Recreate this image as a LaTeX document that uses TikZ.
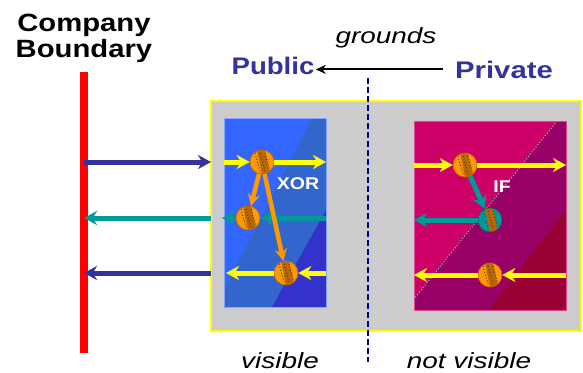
\documentclass[tikz,border=0pt]{standalone}
\usepackage{fontspec}
\setmainfont{Liberation Sans}
\usetikzlibrary{arrows.meta}

\definecolor{navy}{HTML}{333399}
\definecolor{darknavy}{HTML}{000099}
\definecolor{boundred}{HTML}{FF0000}
\definecolor{framegray}{HTML}{CCCCCC}
\definecolor{flowyellow}{HTML}{FFFF00}
\definecolor{flowteal}{HTML}{009999}
\definecolor{floworange}{HTML}{FF9900}
\definecolor{xorlight}{HTML}{3366FF}
\definecolor{xormid}{HTML}{3366CC}
\definecolor{xordark}{HTML}{3333CC}
\definecolor{iflight}{HTML}{CC0066}
\definecolor{ifmid}{HTML}{990066}
\definecolor{ifdark}{HTML}{990033}
\definecolor{ballrim}{HTML}{CC6600}
\definecolor{balldark}{HTML}{BB6600}

\tikzset{
  headline/.style={font=\bfseries\fontsize{24}{26}\selectfont, text=navy, inner sep=1pt},
  sideline/.style={font=\itshape\fontsize{22}{24}\selectfont, xscale=1.27, inner sep=1pt},
  gatename/.style={font=\bfseries\fontsize{17}{19}\selectfont, text=white, xscale=1.15, inner sep=1pt},
  ball/.style={circle, inner sep=0pt, minimum size=24pt, fill=floworange, draw=ballrim, line width=0.6pt,
    path picture={
      \fill[balldark] ([shift={(-5pt,12pt)}]path picture bounding box.center) -- ++(8pt,0pt) -- ++(5pt,-24pt) -- ++(-8pt,0pt) -- cycle;
      \foreach \d in {-7pt,-2pt,3pt}
        \draw[black!75, dotted, line width=1pt] ([shift={(\d,9pt)}]path picture bounding box.center) -- ++(5pt,-18pt);
    }},
  tealball/.style={ball, fill=flowteal, draw=flowteal!70!black},
  yarrow/.style={draw=flowyellow, line width=5pt, -{Stealth[length=13pt,width=14pt]}},
  tarrow/.style={draw=flowteal, line width=5pt, -{Stealth[length=13pt,width=14pt]}},
  narrow/.style={draw=navy, line width=5pt, -{Stealth[length=13pt,width=14pt]}},
  oarrow/.style={draw=floworange, line width=4.5pt, -{Stealth[length=12pt,width=12pt]}}
}

\begin{document}
\begin{tikzpicture}[x=1pt, y=-1pt]
  \useasboundingbox (0,0) rectangle (583,372);

  % corners and ends
  \coordinate (redtop) at (84,72);
  \coordinate (redbot) at (84,353);
  \coordinate (frameNW) at (211,101);
  \coordinate (frameSE) at (581,331);
  \coordinate (xorNW) at (224,118);
  \coordinate (xorSE) at (326,307);
  \coordinate (ifNW) at (414,121);
  \coordinate (ifSE) at (566,310);
  \coordinate (divtop) at (368,78);
  \coordinate (divbot) at (368,362);

  % headings
  \node[font=\bfseries\fontsize{25}{26}\selectfont, xscale=1.17, align=center, anchor=base] (company) at (84,57) {Company\\Boundary};
  \node[headline, xscale=1.15, anchor=base] (public) at (273,74) {Public};
  \node[headline, xscale=1.22, anchor=base] (private) at (504,78) {Private};
  \node[sideline, anchor=base] (grounds) at (386,43) {grounds};
  \draw[line width=2pt, -{Stealth[length=10pt,width=9pt]}] ([xshift=-11pt]private.west) -- (private.west -| public.east);

  % boundary and frame
  \draw[boundred, line width=8pt] (redtop) -- (redbot);
  \filldraw[draw=flowyellow, fill=framegray, line width=2pt] (frameNW) rectangle (frameSE);
  \draw[darknavy, line width=2pt, dash pattern=on 6pt off 3pt] (divtop) -- (divbot);

  % XOR box
  \begin{scope}
    \clip (xorNW) rectangle (xorSE);
    \fill[xorlight] (xorNW) rectangle (xorSE);
    \fill[xormid] (312,118) -- (224,290) -- (224,307) -- (326,307) -- (326,118) -- cycle;
    \fill[xordark] (326,210) -- (272,307) -- (326,307) -- cycle;
  \end{scope}
  \draw[xorlight!60!white, line width=0.8pt] (xorNW) rectangle (xorSE);

  % IF box
  \begin{scope}
    \clip (ifNW) rectangle (ifSE);
    \fill[iflight] (ifNW) rectangle (ifSE);
    \fill[ifmid] (557,121) -- (414,299) -- (414,310) -- (566,310) -- (566,121) -- cycle;
    \fill[ifdark] (566,210) -- (488,310) -- (566,310) -- cycle;
    \draw[flowteal!50!white, line width=1pt, dotted] (557,121) -- (414,299);
  \end{scope}
  \draw[iflight!70!white, line width=0.8pt] (ifNW) rectangle (ifSE);

  \node[gatename, anchor=base] (xorname) at (298,189) {XOR};
  \node[gatename, anchor=base] (ifname) at (502,192) {IF};

  % XOR gate
  \node[ball] (xa) at (262,162) {};
  \node[ball] (xb) at (248,218) {};
  \node[ball] (xc) at (286,273) {};
  \draw[yarrow] (xa -| xorNW) -- (xa.west);
  \draw[yarrow] (xa.east) -- (xa -| xorSE);
  \draw[tarrow] (xb -| xorSE) -- (xb.east);
  \draw[tarrow] (xb.west) -- ([xshift=-2pt]xb -| xorNW);
  \draw[yarrow] (xc -| xorSE) -- (xc.east);
  \draw[yarrow] (xc.west) -- ([xshift=2pt]xc -| xorNW);
  \draw[oarrow] (xa) -- (xb);
  \draw[oarrow] (xa) -- (xc);

  % IF gate
  \node[ball] (ia) at (465,165) {};
  \node[tealball] (ib) at (490,220) {};
  \node[ball] (ic) at (490,275) {};
  \draw[yarrow] (ia -| ifNW) -- (ia.west);
  \draw[yarrow] (ia.east) -- (ia -| ifSE);
  \draw[tarrow] (ia) -- (ib);
  \draw[tarrow] (ib.west) -- (ib -| ifNW);
  \draw[yarrow] (ic -| ifSE) -- (ic.east);
  \draw[yarrow] (ic.west) -- (ic -| ifNW);

  % across the boundary
  \draw[narrow] (xa -| redtop) -- (xa -| frameNW);
  \draw[tarrow] (xb -| frameNW) -- (xb -| redtop);
  \draw[narrow] (xc -| frameNW) -- (xc -| redtop);

  \node[sideline, anchor=base] (visible) at (280,368) {visible};
  \node[sideline, anchor=base] (notvisible) at (469,368) {not visible};
\end{tikzpicture}
\end{document}
